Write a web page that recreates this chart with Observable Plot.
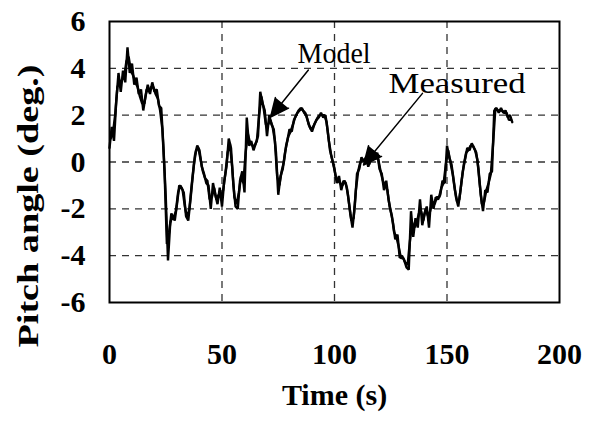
<!DOCTYPE html>
<html>
<head>
<meta charset="utf-8">
<script src="https://cdn.jsdelivr.net/npm/d3@7"></script>
<script src="https://cdn.jsdelivr.net/npm/@observablehq/plot@0.6"></script>
<style>
  html, body { margin: 0; padding: 0; background: white; }
</style>
</head>
<body>
<div id="chart"></div>
<script>
// ---- data ----
const xTicks = [0, 50, 100, 150, 200];
const yTicks = [-6, -4, -2, 0, 2, 4, 6];
const xGrid = [50, 100, 150];
const yGrid = [-4, -2, 0, 2, 4];

// Measured pitch angle (deg.), sampled each second from t = 0 s
const measuredValues = [
  0.6, 1.5, 0.9, 2.6, 3.8, 3.0, 3.9, 3.4, 4.9, 3.8,
  4.2, 3.3, 3.6, 2.9, 3.1, 2.2, 2.8, 3.3, 2.9, 3.4,
  3.0, 3.1, 2.4, 2.3, 0.6, -1.5, -4.2, -2.6, -2.3, -2.5,
  -1.8, -1.0, -1.1, -1.3, -2.3, -2.5, -1.6, -0.6, 0.3, 0.7,
  0.5, -0.2, -0.5, -0.9, -1.0, -2.0, -0.9, -1.4, -1.8, -1.1,
  -1.9, -0.8, -0.2, 1.0, 0.6, -0.9, -1.9, -2.0, -0.8, -0.4,
  -1.3, 1.9, 0.7, 0.9, 0.5, 0.8, 1.1, 3.0, 2.5, 2.2,
  1.1, 2.0, 1.6, 1.4, 0.4, -1.4, -0.6, -0.3, 0.4, 0.9,
  1.4, 1.3, 1.8, 2.0, 2.2, 2.3, 2.2, 2.1, 1.8, 1.5,
  1.3, 1.6, 1.8, 1.9, 2.1, 1.9, 2.0, 1.3, 0.5, 0.1,
  -0.3, -0.9, -0.6, -1.2, -0.8, -0.9, -1.4, -2.2, -2.8, -1.9,
  -0.5, -0.3, 0.2, 0.0, 0.2, -0.2, 0.1, 0.5, 0.1, 0.4,
  -0.3, -0.5, -1.2, -0.8, -1.6, -2.1, -2.6, -3.3, -3.1, -4.1,
  -4.0, -4.2, -4.5, -4.6, -2.1, -3.2, -2.4, -2.8, -1.6, -2.7,
  -2.2, -1.9, -2.8, -1.4, -2.0, -1.5, -1.6, -1.4, -0.8, -0.9,
  0.7, 0.2, -0.1, -0.8, -1.5, -1.9, -1.2, -0.4, 0.1, 0.6,
  0.5, 0.8, 0.6, 0.4, -0.3, -1.4, -2.1, -1.2, -1.3, -0.5,
  -0.4, 2.2, 2.3, 2.1, 2.3, 2.1, 2.2, 1.9, 2.0, 1.7
];

// Model pitch angle (deg.), sampled each second from t = 0.5 s
const modelValues = [
  1.0, 1.2, 2.0, 3.2, 3.4, 3.5, 3.6, 4.3, 4.5, 3.9,
  3.7, 3.4, 3.2, 2.8, 2.5, 2.5, 3.1, 3.0, 3.2, 3.2,
  2.9, 2.7, 2.2, 1.4, -0.5, -3.5, -3.0, -2.2, -2.4, -2.1,
  -1.3, -1.0, -1.2, -1.9, -2.4, -2.0, -1.0, -0.1, 0.5, 0.6,
  0.1, -0.4, -0.7, -0.8, -1.6, -1.5, -1.1, -1.6, -1.4, -1.5,
  -1.2, -0.5, 0.4, 0.8, -0.2, -1.5, -1.8, -1.3, -0.6, -0.9,
  0.4, 1.2, 0.8, 0.7, 0.7, 0.9, 2.0, 2.8, 2.3, 1.6,
  1.6, 1.8, 1.5, 0.9, -0.6, -1.0, -0.4, 0.0, 0.7, 1.1,
  1.3, 1.6, 1.9, 2.1, 2.2, 2.3, 2.1, 2.0, 1.6, 1.4,
  1.5, 1.7, 1.9, 2.0, 2.0, 2.0, 1.7, 0.9, 0.3, -0.1,
  -0.6, -0.8, -0.9, -1.0, -0.8, -1.1, -1.8, -2.5, -2.4, -1.2,
  -0.4, 0.0, 0.1, 0.1, 0.0, -0.1, 0.3, 0.3, 0.2, 0.1,
  -0.4, -0.8, -1.0, -1.2, -1.9, -2.3, -3.0, -3.2, -3.6, -4.1,
  -4.1, -4.3, -4.4, -3.4, -2.6, -2.8, -2.6, -2.2, -2.1, -2.5,
  -2.0, -2.3, -2.1, -1.7, -1.8, -1.5, -1.5, -1.1, -0.9, -0.1,
  0.5, 0.0, -0.5, -1.2, -1.7, -1.6, -0.8, -0.1, 0.4, 0.5,
  0.7, 0.7, 0.5, 0.1, -0.9, -1.8, -1.7, -1.2, -0.9, -0.5,
  0.8, 2.3, 2.2, 2.2, 2.2, 2.1, 2.1, 1.8, 1.8
];

// Annotation labels and arrows (data coordinates)
const labelNames = ["Model", "Measured"];
const labelX = [83.6, 124.0];
const labelY = [4.62, 3.33];
const labelWidths = [73, 137];
const arrowX1 = [88.4, 139.1];
const arrowY1 = [3.93, 2.93];
const arrowX2 = [71.6, 112.9];
const arrowY2 = [1.92, -0.13];

const xLabel = "Time (s)";
const yLabel = "Pitch angle (deg.)";

// ---- build tables ----
const measured = measuredValues.map((v, i) => ({t: i, v}));
const model = modelValues.map((v, i) => ({t: i + 0.5, v}));
const labels = labelNames.map((name, i) => ({name, x: labelX[i], y: labelY[i]}));
const arrows = arrowX1.map((x1, i) => ({x1, y1: arrowY1[i], x2: arrowX2[i], y2: arrowY2[i]}));

const serif = "'Liberation Serif', 'Times New Roman', Times, serif";

const svg = Plot.plot({
  width: 590,
  height: 426,
  marginLeft: 109,
  marginRight: 31,
  marginTop: 21,
  marginBottom: 124,
  style: {fontFamily: serif, fontSize: "30px", fontWeight: "bold", background: "white", color: "black", overflow: "visible"},
  x: {domain: [0, 200], ticks: xTicks, tickSize: 0, tickPadding: 40, label: null, tickFormat: d => String(d)},
  y: {domain: [-6, 6], ticks: yTicks, tickSize: 0, tickPadding: 24, label: null, tickFormat: d => String(d)},
  marks: [
    Plot.ruleY(yGrid, {stroke: "#333", strokeWidth: 1.3, strokeDasharray: "7,6"}),
    Plot.ruleX(xGrid, {stroke: "#333", strokeWidth: 1.3, strokeDasharray: "7,6"}),
    Plot.line(model, {x: "t", y: "v", stroke: "black", strokeWidth: 2.4, strokeLinejoin: "miter"}),
    Plot.line(measured, {x: "t", y: "v", stroke: "black", strokeWidth: 2.4, strokeLinejoin: "miter"}),
    Plot.frame({stroke: "black", strokeWidth: 2}),
    Plot.arrow(arrows, {x1: "x1", y1: "y1", x2: "x2", y2: "y2", stroke: "black", fill: "black", strokeWidth: 1.5, headLength: 20, headAngle: 50}),
    Plot.text(labels, {x: "x", y: "y", text: "name", textAnchor: "start", fontWeight: "normal", fontSize: 29, fill: "black"}),
    Plot.text([xLabel], {text: d => d, frameAnchor: "bottom", dy: 102, fontSize: 30, fontWeight: "bold", fill: "black"}),
    Plot.text([yLabel], {text: d => d, frameAnchor: "left", rotate: -90, textAnchor: "start", dx: -81, dy: 185.5, fontSize: 30, fontWeight: "bold", fill: "black"})
  ]
});

// stretch the scanned-looking labels to the reference lengths
d3.select(svg).selectAll("text").each(function() {
  const t = this.textContent;
  if (t === yLabel) d3.select(this).attr("textLength", 283).attr("lengthAdjust", "spacingAndGlyphs");
  const k = labelNames.indexOf(t);
  if (k >= 0) d3.select(this).attr("textLength", labelWidths[k]).attr("lengthAdjust", "spacingAndGlyphs");
});

document.getElementById("chart").appendChild(svg);
</script>
</body>
</html>
